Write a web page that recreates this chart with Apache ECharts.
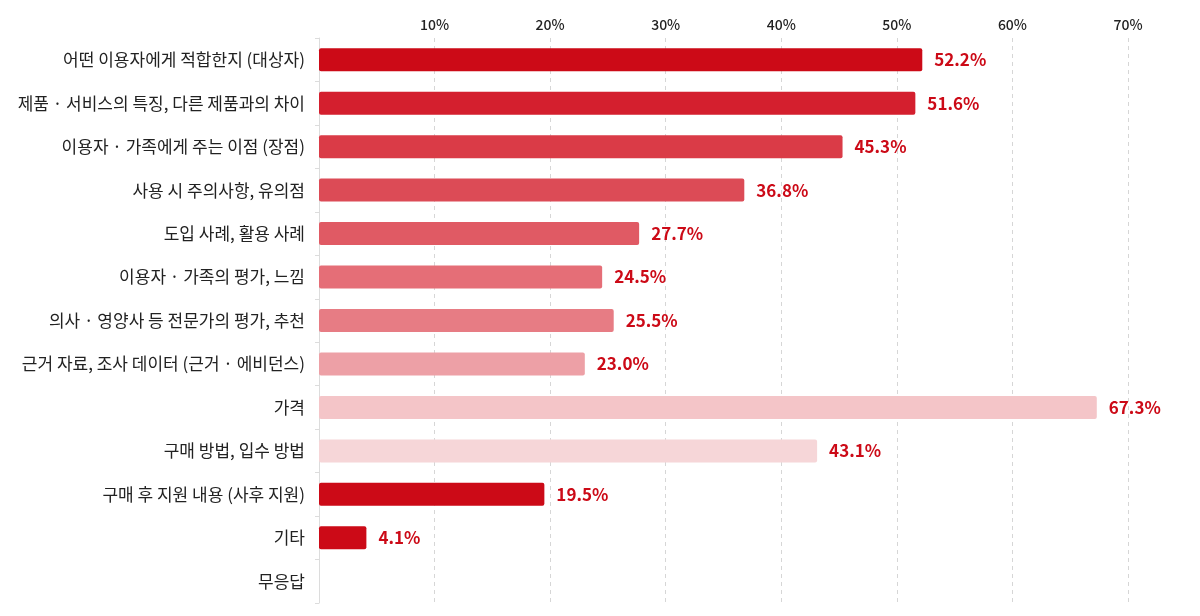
<!DOCTYPE html>
<html><head><meta charset="utf-8">
<script src="https://cdn.jsdelivr.net/npm/echarts@6/dist/echarts.min.js"></script>
<style>html,body{margin:0;padding:0;background:#fff}#c{width:1200px;height:616px}</style>
</head><body><div id="c"></div>
<script>
const categories = [
  '어떤 이용자에게 적합한지 (대상자)',
  '제품 · 서비스의 특징, 다른 제품과의 차이',
  '이용자 · 가족에게 주는 이점 (장점)',
  '사용 시 주의사항, 유의점',
  '도입 사례, 활용 사례',
  '이용자 · 가족의 평가, 느낌',
  '의사 · 영양사 등 전문가의 평가, 추천',
  '근거 자료, 조사 데이터 (근거 · 에비던스)',
  '가격',
  '구매 방법, 입수 방법',
  '구매 후 지원 내용 (사후 지원)',
  '기타',
  '무응답'
];
const values = [52.2, 51.6, 45.3, 36.8, 27.7, 24.5, 25.5, 23.0, 67.3, 43.1, 19.5, 4.1, null];
const barColors = ['#CC0A17','#D41F2E','#DA3B47','#DC4B56','#E05A64','#E56E77','#E77C84','#EDA0A6','#F4C5C8','#F6D6D8','#CC0A17','#CC0A17','#CC0A17'];
const tickValues = [10,20,30,40,50,60,70];

const chart = echarts.init(document.getElementById('c'));
chart.setOption({
  animation: false,
  grid: {left: 319, right: 72, top: 38, bottom: 13, containLabel: false},
  xAxis: {
    type: 'value', position: 'top', min: 0, max: 70, interval: 10,
    axisLine: {show: false}, axisTick: {show: false},
    splitLine: {show: true, lineStyle: {type: [4, 4], color: '#d6d6d6'}},
    axisLabel: {
      color: '#222', fontSize: 14, fontWeight: 500, fontFamily: 'Noto Sans CJK KR',
      margin: 6,
      formatter: v => tickValues.includes(v) ? v + '%' : ''
    }
  },
  yAxis: {
    type: 'category', inverse: true, data: categories,
    axisLine: {show: true, lineStyle: {color: '#dcdcdc'}},
    axisTick: {show: true, length: 4, lineStyle: {color: '#dcdcdc'}},
    axisLabel: {color: '#222', fontSize: 17, fontFamily: 'Noto Sans CJK KR', margin: 14}
  },
  series: [{
    type: 'bar', barWidth: 23,
    data: values.map((v, i) => ({value: v, itemStyle: {color: barColors[i], borderRadius: 2}})),
    label: {
      show: true, position: 'right', distance: 12,
      color: '#CC0A17', fontSize: 17, fontWeight: 'bold', fontFamily: 'Noto Sans CJK KR',
      formatter: p => p.value == null ? '' : p.value.toFixed(1) + '%'
    }
  }]
});
</script></body></html>
